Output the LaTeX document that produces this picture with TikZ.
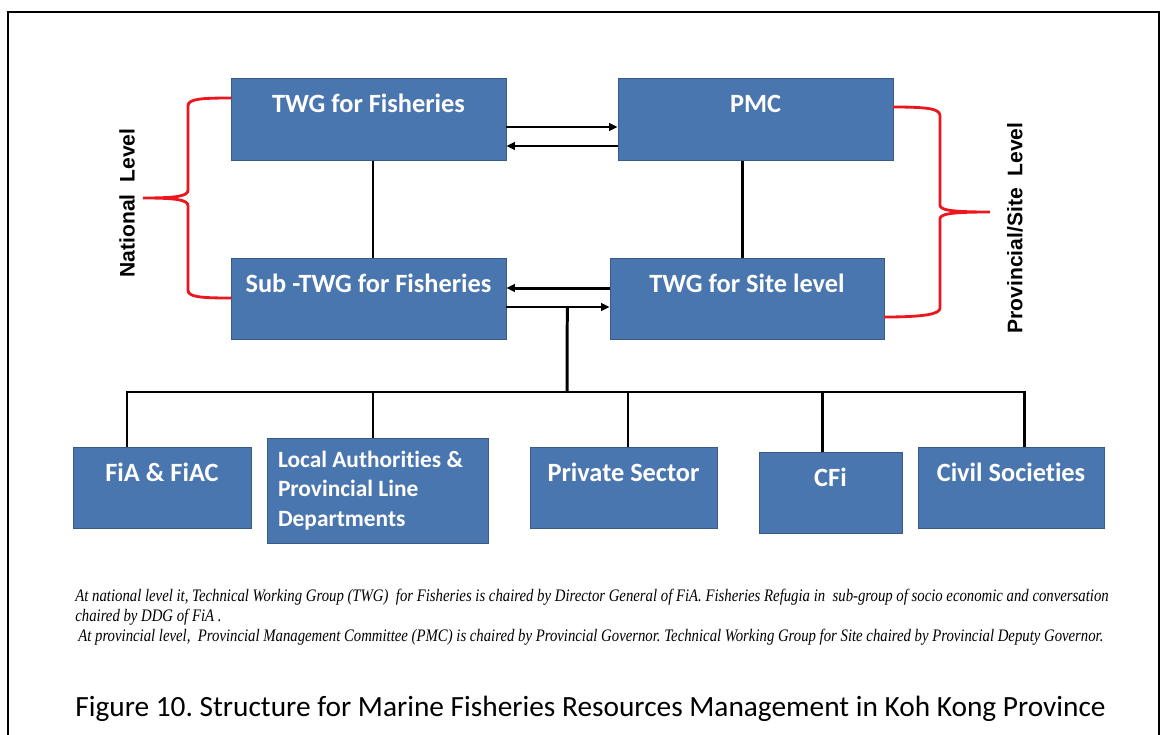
\documentclass[tikz,border=0pt]{standalone}
\usepackage{fontspec}
\usetikzlibrary{arrows.meta}
\newfontfamily\boxfont[Ligatures=NoCommon]{Carlito}
\newfontfamily\levelfont{Liberation Sans}
\newfontfamily\notefont[FakeStretch=0.84]{Liberation Serif}
\definecolor{boxblue}{RGB}{74,118,176}
\definecolor{boxedge}{RGB}{56,90,135}
\definecolor{bracered}{RGB}{235,22,30}
\frenchspacing
\tikzset{
  unit/.style={draw=boxedge, fill=boxblue, text=white, inner sep=0pt,
    font=\boxfont\bfseries\fontsize{15}{18}\selectfont},
  onerow/.style={unit, text height=0.68cm, text depth=0.95cm},
  link/.style={line width=1.7pt},
  flow/.style={link, -{Triangle[length=0.17cm,width=0.15cm]}},
  brace/.style={bracered, line width=1.6pt},
  level/.style={rotate=90, font=\levelfont\bfseries\fontsize{12}{14}\selectfont},
}

\begin{document}
\begin{tikzpicture}[x=0.02cm, y=-0.02cm]
  \useasboundingbox (0,0) rectangle (1160,734);
  \draw[line width=1.2pt] (8,760) |- (1159,12) -- (1159,760);

  \node[onerow, minimum width=5.5cm] (twg) at (368.5,119.5) {TWG for Fisheries};
  \node[onerow, minimum width=5.5cm] (pmc) at (755.5,119.5) {PMC};
  \node[onerow, minimum width=5.5cm] (sub) at (368.5,299) {Sub -TWG for Fisheries};
  \node[onerow, minimum width=5.48cm] (site) at (747,299) {TWG for Site level};

  \node[onerow, minimum width=3.56cm] (fia) at (162,488) {FiA \& FiAC};
  \node[unit, minimum height=2.1cm, text width=3.98cm, inner xsep=0.22cm, align=left,
    font=\boxfont\bfseries\fontsize{13.3}{16.8}\selectfont] (local) at (377.5,490.5)
    {\spaceskip=0pt Local Authorities \&\\ Provincial Line\\ Departments};
  \node[onerow, minimum width=3.74cm] (priv) at (623.5,488) {Private Sector};
  \node[onerow, minimum width=2.86cm] (cfi) at (830.5,493) {CFi};
  \node[onerow, minimum width=3.72cm] (civil) at (1011,488) {Civil Societies};

  \draw[flow] ([yshift=-0.15cm]twg.east) -- ([yshift=-0.15cm]twg.east -| pmc.west);
  \draw[flow] ([yshift=-0.53cm]pmc.west) -- ([yshift=-0.53cm]pmc.west -| twg.east);
  \draw[flow] ([yshift=0.22cm]site.west) -- ([yshift=0.22cm]site.west -| sub.east);
  \draw[flow] ([yshift=-0.16cm]sub.east) -- ([yshift=-0.16cm]sub.east -| site.west)
    coordinate[pos=0.59] (split);

  \draw[link] ([xshift=0.09cm]twg.south) -- ([xshift=0.09cm]twg.south |- sub.north);
  \draw[link] ([xshift=-0.27cm]pmc.south) -- ([xshift=-0.27cm]pmc.south |- site.north);

  \coordinate (bus) at (567,392);
  \draw[link] (split) -- (bus);
  \foreach \n/\dx in {fia/-35,local/-4.5,priv/4.5,cfi/-8.5,civil/13}
    \draw[link] ([xshift=\dx*0.02cm]\n.north) |- (bus);

  \draw[brace] (231,98) .. controls (200,98) and (188,99) .. (188,106) -- (188,190)
    .. controls (188,196) and (178,198) .. (143,198)
    .. controls (178,198) and (188,200) .. (188,206) -- (188,290)
    .. controls (188,297) and (200,298) .. (231,298);
  \draw[brace] (893,107) .. controls (930,107) and (940,109) .. (940,116) -- (940,205)
    .. controls (940,210) and (950,212) .. (990,212)
    .. controls (950,212) and (940,214) .. (940,219) -- (940,308)
    .. controls (940,314) and (925,317) .. (884,317);
  \node[level] (national) at (127,203) {National~ Level};
  \node[level] (provincial) at (1015,228) {Provincial/Site~ Level};

  \node[anchor=north west, align=left, inner sep=0pt,
    font=\notefont\itshape\fontsize{10}{11.4}\selectfont] (note) at (75,589)
    {At national level it, Technical Working Group (TWG)~ for Fisheries is chaired by Director General of FiA. Fisheries Refugia in~ sub-group of socio economic and conversation\\
     chaired by DDG of FiA .\\
     \hspace{0.06cm}At provincial level,~ Provincial Management Committee (PMC) is chaired by Provincial Governor. Technical Working Group for Site chaired by Provincial Deputy Governor.};

  \node[anchor=base west, inner sep=0pt, font=\boxfont\fontsize{16.7}{20}\selectfont]
    (caption) at (75,716)
    {Figure 10. Structure for Marine Fisheries Resources Management in Koh Kong Province};
\end{tikzpicture}
\end{document}
